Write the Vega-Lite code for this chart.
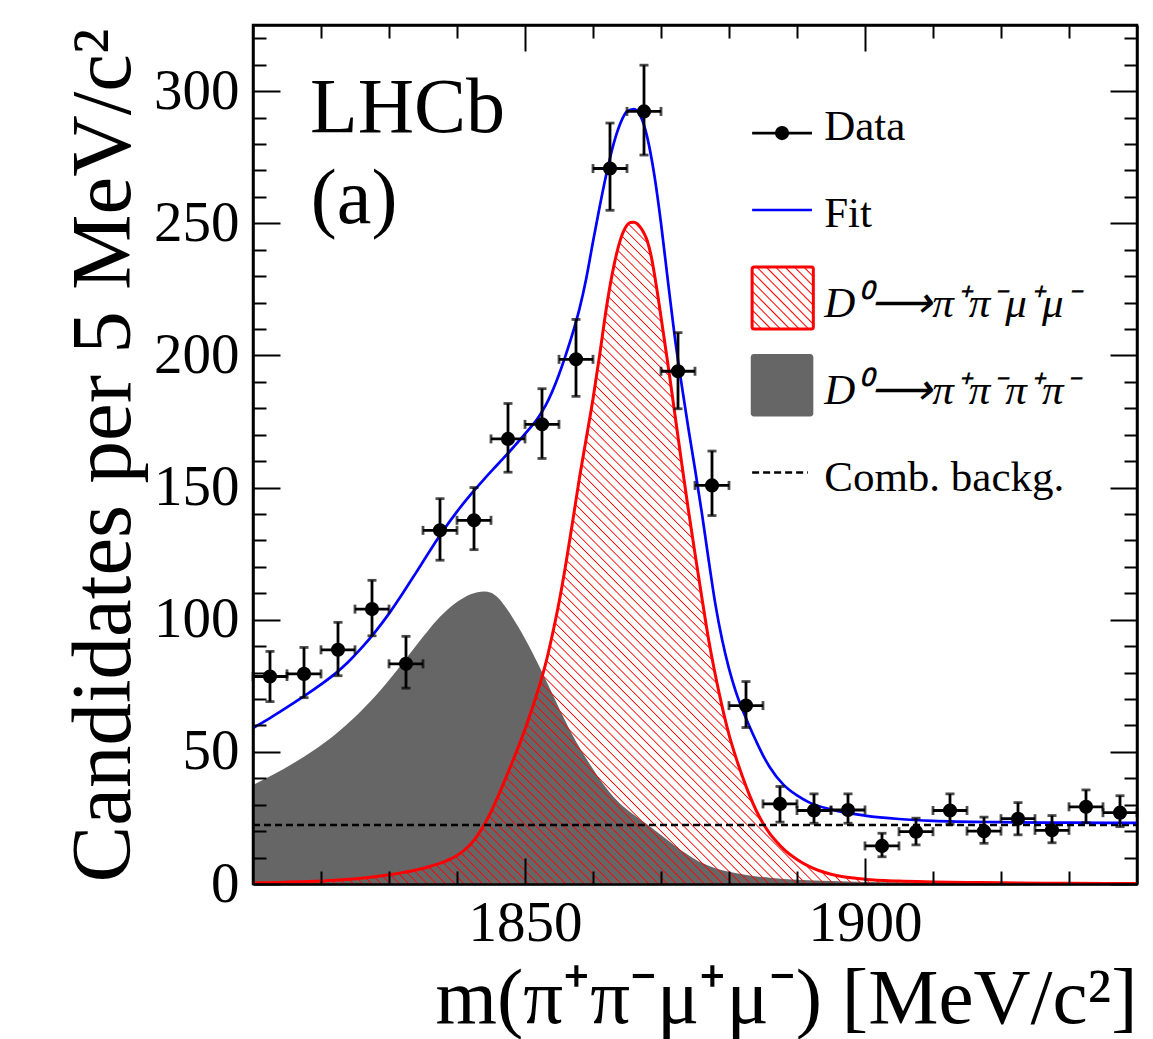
{
"$schema": "https://vega.github.io/schema/vega-lite/v6.json",
"width": 884, "height": 859,
"autosize": "none",
"padding": {"left": 253, "top": 25, "right": 16, "bottom": 155},
"background": "white",
"config": {
 "view": {"stroke": "black", "strokeWidth": 2.5},
 "font": "Liberation Serif",
 "axis": {"grid": false, "domain": false, "labelColor": "black", "titleColor": "black", "tickColor": "black", "tickWidth": 2, "labelFont": "Liberation Serif", "titleFont": "Liberation Serif", "titleFontWeight": "normal", "domainColor": "black", "domainWidth": 2.5}
},
"resolve": {"axis": {"x": "independent", "y": "independent"}},
"datasets": {
 "pts": [
  {"x":1812.5,"xlo":1810,"xhi":1815,"y":78.5,"ylo":69,"yhi":88},
  {"x":1817.5,"xlo":1815,"xhi":1820,"y":79.5,"ylo":70.5,"yhi":89.5},
  {"x":1822.5,"xlo":1820,"xhi":1825,"y":88.6,"ylo":78.8,"yhi":99},
  {"x":1827.5,"xlo":1825,"xhi":1830,"y":104,"ylo":93.9,"yhi":114.9},
  {"x":1832.5,"xlo":1830,"xhi":1835,"y":83.3,"ylo":74.1,"yhi":93.7},
  {"x":1837.5,"xlo":1835,"xhi":1840,"y":133.8,"ylo":122.5,"yhi":145.8},
  {"x":1842.5,"xlo":1840,"xhi":1845,"y":137.6,"ylo":126.5,"yhi":150},
  {"x":1847.5,"xlo":1845,"xhi":1850,"y":168.4,"ylo":155.8,"yhi":181.8},
  {"x":1852.5,"xlo":1850,"xhi":1855,"y":173.9,"ylo":161,"yhi":187.4},
  {"x":1857.5,"xlo":1855,"xhi":1860,"y":198.5,"ylo":184.5,"yhi":213.6},
  {"x":1862.5,"xlo":1860,"xhi":1865,"y":270.7,"ylo":254.9,"yhi":287.9},
  {"x":1867.5,"xlo":1865,"xhi":1870,"y":292.3,"ylo":275.8,"yhi":309.8},
  {"x":1872.5,"xlo":1870,"xhi":1875,"y":194,"ylo":179.8,"yhi":208.6},
  {"x":1877.5,"xlo":1875,"xhi":1880,"y":150.8,"ylo":139.4,"yhi":163.8},
  {"x":1882.5,"xlo":1880,"xhi":1885,"y":67.5,"ylo":59.2,"yhi":76.6},
  {"x":1887.5,"xlo":1885,"xhi":1890,"y":30.3,"ylo":23.4,"yhi":36.9},
  {"x":1892.5,"xlo":1890,"xhi":1895,"y":27.8,"ylo":23,"yhi":34.1},
  {"x":1897.5,"xlo":1895,"xhi":1900,"y":28,"ylo":23,"yhi":34.1},
  {"x":1902.5,"xlo":1900,"xhi":1905,"y":14.4,"ylo":10.3,"yhi":19.2},
  {"x":1907.5,"xlo":1905,"xhi":1910,"y":19.8,"ylo":14.8,"yhi":24.9},
  {"x":1912.5,"xlo":1910,"xhi":1915,"y":27.8,"ylo":22.6,"yhi":34.1},
  {"x":1917.5,"xlo":1915,"xhi":1920,"y":20,"ylo":15.4,"yhi":25.3},
  {"x":1922.5,"xlo":1920,"xhi":1925,"y":24.7,"ylo":18.6,"yhi":30.8},
  {"x":1927.5,"xlo":1925,"xhi":1930,"y":20.3,"ylo":15.6,"yhi":25.9},
  {"x":1932.5,"xlo":1930,"xhi":1935,"y":29.2,"ylo":23.2,"yhi":35.6},
  {"x":1937.5,"xlo":1935,"xhi":1940,"y":27,"ylo":21.7,"yhi":33.4}
 ],
 "gray": [
  {"x":1810,"y":37.5},{"x":1813,"y":41.4},{"x":1816,"y":45.8},{"x":1819,"y":50.7},{"x":1822,"y":56.4},{"x":1825,"y":63.2},{"x":1828,"y":71.1},{"x":1831,"y":80.3},{"x":1833,"y":86.9},{"x":1835,"y":93.5},{"x":1837,"y":99.7},{"x":1839,"y":104.7},{"x":1841,"y":108.3},{"x":1842,"y":109.6},{"x":1843,"y":110.4},{"x":1844,"y":110.7},{"x":1845,"y":110.2},{"x":1846,"y":108.4},{"x":1847,"y":105.3},{"x":1848,"y":101.5},{"x":1849,"y":97.3},{"x":1850,"y":92.8},{"x":1851,"y":88},{"x":1852,"y":82.9},{"x":1853,"y":77.6},{"x":1854,"y":72.1},{"x":1855,"y":66.6},{"x":1856,"y":61.3},{"x":1857,"y":56.3},{"x":1858,"y":51.7},{"x":1859,"y":47.5},{"x":1860,"y":43.5},{"x":1861,"y":39.6},{"x":1862,"y":36.1},{"x":1863,"y":33},{"x":1864,"y":30.4},{"x":1865,"y":28.2},{"x":1866,"y":26.2},{"x":1868,"y":22.5},{"x":1870,"y":18.5},{"x":1872,"y":14.6},{"x":1874,"y":11},{"x":1876,"y":8},{"x":1878,"y":6},{"x":1880,"y":4.6},{"x":1883,"y":3.2},{"x":1886,"y":2.4},{"x":1890,"y":1.6},{"x":1895,"y":1.1},{"x":1900,"y":0.8},{"x":1910,"y":0.5},{"x":1920,"y":0.3},{"x":1940,"y":0.15}
 ],
 "sig": [
  {"x":1810,"y":0.4},{"x":1814,"y":0.6},{"x":1818,"y":0.9},{"x":1822,"y":1.4},{"x":1826,"y":2.2},{"x":1829,"y":3.1},{"x":1832,"y":4.3},{"x":1834,"y":5.3},{"x":1836,"y":6.6},{"x":1837,"y":7.4},{"x":1838,"y":8.3},{"x":1839,"y":9.4},{"x":1840,"y":10.8},{"x":1841,"y":12.6},{"x":1842,"y":15},{"x":1843,"y":18.3},{"x":1844,"y":22.4},{"x":1845,"y":27.3},{"x":1846,"y":33},{"x":1847,"y":39},{"x":1848,"y":45.3},{"x":1849,"y":51.7},{"x":1850,"y":58.5},{"x":1851,"y":66},{"x":1852,"y":74},{"x":1853,"y":83},{"x":1854,"y":94},{"x":1855,"y":106.5},{"x":1856,"y":121},{"x":1857,"y":137},{"x":1858,"y":153.5},{"x":1859,"y":168.5},{"x":1860,"y":183.5},{"x":1861,"y":200.5},{"x":1862,"y":218.5},{"x":1863,"y":233},{"x":1863.5,"y":238.8},{"x":1864,"y":243.5},{"x":1864.5,"y":247},{"x":1865,"y":249.3},{"x":1865.5,"y":250.3},{"x":1866,"y":250.4},{"x":1866.5,"y":249.8},{"x":1867,"y":248.3},{"x":1867.5,"y":246.2},{"x":1868,"y":243.2},{"x":1868.5,"y":238.2},{"x":1869,"y":231.3},{"x":1869.5,"y":223.2},{"x":1870,"y":214.5},{"x":1871,"y":197},{"x":1872,"y":178.5},{"x":1873,"y":160},{"x":1874,"y":142},{"x":1875,"y":125},{"x":1876,"y":108.5},{"x":1877,"y":92.5},{"x":1878,"y":79},{"x":1879,"y":67},{"x":1880,"y":56.5},{"x":1881,"y":48},{"x":1882,"y":40.5},{"x":1883,"y":33.7},{"x":1884,"y":27.8},{"x":1885,"y":23},{"x":1886,"y":19.1},{"x":1887,"y":16},{"x":1888,"y":13.3},{"x":1890,"y":9.3},{"x":1892,"y":6.4},{"x":1895,"y":3.7},{"x":1900,"y":1.8},{"x":1905,"y":1.1},{"x":1910,"y":0.8},{"x":1915,"y":0.6},{"x":1920,"y":0.45},{"x":1930,"y":0.25},{"x":1940,"y":0.15}
 ],
 "fit": [
  {"x":1810,"y":59},{"x":1812,"y":62},{"x":1814,"y":65.2},{"x":1816,"y":68.5},{"x":1818,"y":71.9},{"x":1820,"y":75.5},{"x":1822,"y":79.4},{"x":1824,"y":84},{"x":1826,"y":89.4},{"x":1828,"y":95.5},{"x":1830,"y":102.3},{"x":1832,"y":109.9},{"x":1834,"y":117.9},{"x":1836,"y":126},{"x":1838,"y":133.8},{"x":1840,"y":140.9},{"x":1842,"y":147.3},{"x":1844,"y":153.2},{"x":1846,"y":158.8},{"x":1848,"y":164.4},{"x":1850,"y":170.3},{"x":1852,"y":176.7},{"x":1853,"y":180.9},{"x":1854,"y":186.3},{"x":1855,"y":192.8},{"x":1856,"y":200.2},{"x":1857,"y":208.3},{"x":1858,"y":217.5},{"x":1859,"y":229},{"x":1860,"y":243},{"x":1861,"y":256.5},{"x":1862,"y":269},{"x":1863,"y":279.7},{"x":1864,"y":287.6},{"x":1865,"y":292.3},{"x":1866,"y":293.2},{"x":1867,"y":290.5},{"x":1868,"y":282.3},{"x":1869,"y":268.5},{"x":1870,"y":250},{"x":1871,"y":228.5},{"x":1872,"y":207.5},{"x":1873,"y":189.5},{"x":1874,"y":172.8},{"x":1875,"y":157},{"x":1876,"y":140.5},{"x":1877,"y":122.7},{"x":1878,"y":105.8},{"x":1879,"y":92.3},{"x":1880,"y":81.5},{"x":1881,"y":72.8},{"x":1882,"y":65.8},{"x":1883,"y":59.7},{"x":1884,"y":54},{"x":1885,"y":48.7},{"x":1886,"y":44.2},{"x":1888,"y":37.6},{"x":1890,"y":33.5},{"x":1892,"y":30.6},{"x":1895,"y":28.2},{"x":1900,"y":25.9},{"x":1905,"y":24.6},{"x":1910,"y":23.9},{"x":1920,"y":23.4},{"x":1930,"y":23.2},{"x":1940,"y":23.1}
 ],
 "comb": [{"x":1810,"y":22.3},{"x":1940,"y":22.3}]
},
"layer": [
 {
  "data": {"name": "gray"},
  "mark": {"type": "area", "color": "#666666", "opacity": 1, "interpolate": "monotone"},
  "encoding": {
   "x": {"field": "x", "type": "quantitative", "scale": {"domain": [1810, 1940], "nice": false, "zero": false},
    "axis": {"orient": "bottom", "values": [1850, 1900], "format": "d", "ticks": false, "domain": false, "labelFontSize": 57, "labelPadding": 11, "labelFlush": false, "title": "m(π⁺π⁻μ⁺μ⁻) [MeV/c²]", "titleFontSize": 79, "titleAnchor": "end", "titleAlign": "right", "titleBaseline": "alphabetic", "titleX": 884, "titleY": 138}},
   "y": {"field": "y", "type": "quantitative", "scale": {"domain": [0, 325], "nice": false},
    "axis": {"orient": "left", "values": [0, 50, 100, 150, 200, 250, 300], "format": "d", "ticks": false, "domain": false, "labelFontSize": 57, "labelPadding": 14, "labelFlush": false, "title": "Candidates per 5 MeV/c²", "titleFontSize": 85, "titleAngle": -90, "titleAnchor": "end", "titleAlign": "right", "titleBaseline": "alphabetic", "titleX": -124, "titleY": 3}}
  }
 },
 {
  "data": {"name": "sig"},
  "transform": [{"filter": "datum.x >= 1818 && datum.x <= 1915"}],
  "mark": {"type": "area", "interpolate": "monotone", "color": {"gradient": "linear", "x1": 0, "y1": 1, "x2": 1, "y2": 0, "stops": [
{"offset":0,"color":"red"},{"offset":0.0009,"color":"#f000"},
{"offset":0.0061,"color":"#f000"},{"offset":0.007,"color":"red"},{"offset":0.0079,"color":"#f000"},
{"offset":0.0131,"color":"#f000"},{"offset":0.014,"color":"red"},{"offset":0.0149,"color":"#f000"},
{"offset":0.0201,"color":"#f000"},{"offset":0.021,"color":"red"},{"offset":0.0219,"color":"#f000"},
{"offset":0.0271,"color":"#f000"},{"offset":0.028,"color":"red"},{"offset":0.0289,"color":"#f000"},
{"offset":0.0341,"color":"#f000"},{"offset":0.035,"color":"red"},{"offset":0.0359,"color":"#f000"},
{"offset":0.0411,"color":"#f000"},{"offset":0.042,"color":"red"},{"offset":0.0429,"color":"#f000"},
{"offset":0.0481,"color":"#f000"},{"offset":0.049,"color":"red"},{"offset":0.0499,"color":"#f000"},
{"offset":0.0551,"color":"#f000"},{"offset":0.056,"color":"red"},{"offset":0.0569,"color":"#f000"},
{"offset":0.0621,"color":"#f000"},{"offset":0.063,"color":"red"},{"offset":0.0639,"color":"#f000"},
{"offset":0.0691,"color":"#f000"},{"offset":0.07,"color":"red"},{"offset":0.0709,"color":"#f000"},
{"offset":0.0761,"color":"#f000"},{"offset":0.077,"color":"red"},{"offset":0.0779,"color":"#f000"},
{"offset":0.0831,"color":"#f000"},{"offset":0.084,"color":"red"},{"offset":0.0849,"color":"#f000"},
{"offset":0.0901,"color":"#f000"},{"offset":0.091,"color":"red"},{"offset":0.0919,"color":"#f000"},
{"offset":0.0971,"color":"#f000"},{"offset":0.098,"color":"red"},{"offset":0.0989,"color":"#f000"},
{"offset":0.1041,"color":"#f000"},{"offset":0.105,"color":"red"},{"offset":0.1059,"color":"#f000"},
{"offset":0.1111,"color":"#f000"},{"offset":0.112,"color":"red"},{"offset":0.1129,"color":"#f000"},
{"offset":0.1181,"color":"#f000"},{"offset":0.119,"color":"red"},{"offset":0.1199,"color":"#f000"},
{"offset":0.1251,"color":"#f000"},{"offset":0.126,"color":"red"},{"offset":0.1269,"color":"#f000"},
{"offset":0.1321,"color":"#f000"},{"offset":0.133,"color":"red"},{"offset":0.1339,"color":"#f000"},
{"offset":0.1391,"color":"#f000"},{"offset":0.14,"color":"red"},{"offset":0.1409,"color":"#f000"},
{"offset":0.1461,"color":"#f000"},{"offset":0.147,"color":"red"},{"offset":0.1479,"color":"#f000"},
{"offset":0.1531,"color":"#f000"},{"offset":0.154,"color":"red"},{"offset":0.1549,"color":"#f000"},
{"offset":0.1601,"color":"#f000"},{"offset":0.161,"color":"red"},{"offset":0.1619,"color":"#f000"},
{"offset":0.1671,"color":"#f000"},{"offset":0.168,"color":"red"},{"offset":0.1689,"color":"#f000"},
{"offset":0.1741,"color":"#f000"},{"offset":0.175,"color":"red"},{"offset":0.1759,"color":"#f000"},
{"offset":0.1811,"color":"#f000"},{"offset":0.182,"color":"red"},{"offset":0.1829,"color":"#f000"},
{"offset":0.1881,"color":"#f000"},{"offset":0.189,"color":"red"},{"offset":0.1899,"color":"#f000"},
{"offset":0.1951,"color":"#f000"},{"offset":0.196,"color":"red"},{"offset":0.1969,"color":"#f000"},
{"offset":0.2021,"color":"#f000"},{"offset":0.203,"color":"red"},{"offset":0.2039,"color":"#f000"},
{"offset":0.2091,"color":"#f000"},{"offset":0.21,"color":"red"},{"offset":0.2109,"color":"#f000"},
{"offset":0.2161,"color":"#f000"},{"offset":0.217,"color":"red"},{"offset":0.2179,"color":"#f000"},
{"offset":0.2231,"color":"#f000"},{"offset":0.224,"color":"red"},{"offset":0.2249,"color":"#f000"},
{"offset":0.2301,"color":"#f000"},{"offset":0.231,"color":"red"},{"offset":0.2319,"color":"#f000"},
{"offset":0.2371,"color":"#f000"},{"offset":0.238,"color":"red"},{"offset":0.2389,"color":"#f000"},
{"offset":0.2441,"color":"#f000"},{"offset":0.245,"color":"red"},{"offset":0.2459,"color":"#f000"},
{"offset":0.2511,"color":"#f000"},{"offset":0.252,"color":"red"},{"offset":0.2529,"color":"#f000"},
{"offset":0.2581,"color":"#f000"},{"offset":0.259,"color":"red"},{"offset":0.2599,"color":"#f000"},
{"offset":0.2651,"color":"#f000"},{"offset":0.266,"color":"red"},{"offset":0.2669,"color":"#f000"},
{"offset":0.2721,"color":"#f000"},{"offset":0.273,"color":"red"},{"offset":0.2739,"color":"#f000"},
{"offset":0.2791,"color":"#f000"},{"offset":0.28,"color":"red"},{"offset":0.2809,"color":"#f000"},
{"offset":0.2861,"color":"#f000"},{"offset":0.287,"color":"red"},{"offset":0.2879,"color":"#f000"},
{"offset":0.2931,"color":"#f000"},{"offset":0.294,"color":"red"},{"offset":0.2949,"color":"#f000"},
{"offset":0.3001,"color":"#f000"},{"offset":0.301,"color":"red"},{"offset":0.3019,"color":"#f000"},
{"offset":0.3071,"color":"#f000"},{"offset":0.308,"color":"red"},{"offset":0.3089,"color":"#f000"},
{"offset":0.3141,"color":"#f000"},{"offset":0.315,"color":"red"},{"offset":0.3159,"color":"#f000"},
{"offset":0.3211,"color":"#f000"},{"offset":0.322,"color":"red"},{"offset":0.3229,"color":"#f000"},
{"offset":0.3281,"color":"#f000"},{"offset":0.329,"color":"red"},{"offset":0.3299,"color":"#f000"},
{"offset":0.3351,"color":"#f000"},{"offset":0.336,"color":"red"},{"offset":0.3369,"color":"#f000"},
{"offset":0.3421,"color":"#f000"},{"offset":0.343,"color":"red"},{"offset":0.3439,"color":"#f000"},
{"offset":0.3491,"color":"#f000"},{"offset":0.35,"color":"red"},{"offset":0.3509,"color":"#f000"},
{"offset":0.3561,"color":"#f000"},{"offset":0.357,"color":"red"},{"offset":0.3579,"color":"#f000"},
{"offset":0.3631,"color":"#f000"},{"offset":0.364,"color":"red"},{"offset":0.3649,"color":"#f000"},
{"offset":0.3701,"color":"#f000"},{"offset":0.371,"color":"red"},{"offset":0.3719,"color":"#f000"},
{"offset":0.3771,"color":"#f000"},{"offset":0.378,"color":"red"},{"offset":0.3789,"color":"#f000"},
{"offset":0.3841,"color":"#f000"},{"offset":0.385,"color":"red"},{"offset":0.3859,"color":"#f000"},
{"offset":0.3911,"color":"#f000"},{"offset":0.392,"color":"red"},{"offset":0.3929,"color":"#f000"},
{"offset":0.3981,"color":"#f000"},{"offset":0.399,"color":"red"},{"offset":0.3999,"color":"#f000"},
{"offset":0.4051,"color":"#f000"},{"offset":0.406,"color":"red"},{"offset":0.4069,"color":"#f000"},
{"offset":0.4121,"color":"#f000"},{"offset":0.413,"color":"red"},{"offset":0.4139,"color":"#f000"},
{"offset":0.4191,"color":"#f000"},{"offset":0.42,"color":"red"},{"offset":0.4209,"color":"#f000"},
{"offset":0.4261,"color":"#f000"},{"offset":0.427,"color":"red"},{"offset":0.4279,"color":"#f000"},
{"offset":0.4331,"color":"#f000"},{"offset":0.434,"color":"red"},{"offset":0.4349,"color":"#f000"},
{"offset":0.4401,"color":"#f000"},{"offset":0.441,"color":"red"},{"offset":0.4419,"color":"#f000"},
{"offset":0.4471,"color":"#f000"},{"offset":0.448,"color":"red"},{"offset":0.4489,"color":"#f000"},
{"offset":0.4541,"color":"#f000"},{"offset":0.455,"color":"red"},{"offset":0.4559,"color":"#f000"},
{"offset":0.4611,"color":"#f000"},{"offset":0.462,"color":"red"},{"offset":0.4629,"color":"#f000"},
{"offset":0.4681,"color":"#f000"},{"offset":0.469,"color":"red"},{"offset":0.4699,"color":"#f000"},
{"offset":0.4751,"color":"#f000"},{"offset":0.476,"color":"red"},{"offset":0.4769,"color":"#f000"},
{"offset":0.4821,"color":"#f000"},{"offset":0.483,"color":"red"},{"offset":0.4839,"color":"#f000"},
{"offset":0.4891,"color":"#f000"},{"offset":0.49,"color":"red"},{"offset":0.4909,"color":"#f000"},
{"offset":0.4961,"color":"#f000"},{"offset":0.497,"color":"red"},{"offset":0.4979,"color":"#f000"},
{"offset":0.5031,"color":"#f000"},{"offset":0.504,"color":"red"},{"offset":0.5049,"color":"#f000"},
{"offset":0.5101,"color":"#f000"},{"offset":0.511,"color":"red"},{"offset":0.5119,"color":"#f000"},
{"offset":0.5171,"color":"#f000"},{"offset":0.518,"color":"red"},{"offset":0.5189,"color":"#f000"},
{"offset":0.5241,"color":"#f000"},{"offset":0.525,"color":"red"},{"offset":0.5259,"color":"#f000"},
{"offset":0.5311,"color":"#f000"},{"offset":0.532,"color":"red"},{"offset":0.5329,"color":"#f000"},
{"offset":0.5381,"color":"#f000"},{"offset":0.539,"color":"red"},{"offset":0.5399,"color":"#f000"},
{"offset":0.5451,"color":"#f000"},{"offset":0.546,"color":"red"},{"offset":0.5469,"color":"#f000"},
{"offset":0.5521,"color":"#f000"},{"offset":0.553,"color":"red"},{"offset":0.5539,"color":"#f000"},
{"offset":0.5591,"color":"#f000"},{"offset":0.56,"color":"red"},{"offset":0.5609,"color":"#f000"},
{"offset":0.5661,"color":"#f000"},{"offset":0.567,"color":"red"},{"offset":0.5679,"color":"#f000"},
{"offset":0.5731,"color":"#f000"},{"offset":0.574,"color":"red"},{"offset":0.5749,"color":"#f000"},
{"offset":0.5801,"color":"#f000"},{"offset":0.581,"color":"red"},{"offset":0.5819,"color":"#f000"},
{"offset":0.5871,"color":"#f000"},{"offset":0.588,"color":"red"},{"offset":0.5889,"color":"#f000"},
{"offset":0.5941,"color":"#f000"},{"offset":0.595,"color":"red"},{"offset":0.5959,"color":"#f000"},
{"offset":0.6011,"color":"#f000"},{"offset":0.602,"color":"red"},{"offset":0.6029,"color":"#f000"},
{"offset":0.6081,"color":"#f000"},{"offset":0.609,"color":"red"},{"offset":0.6099,"color":"#f000"},
{"offset":0.6151,"color":"#f000"},{"offset":0.616,"color":"red"},{"offset":0.6169,"color":"#f000"},
{"offset":0.6221,"color":"#f000"},{"offset":0.623,"color":"red"},{"offset":0.6239,"color":"#f000"},
{"offset":0.6291,"color":"#f000"},{"offset":0.63,"color":"red"},{"offset":0.6309,"color":"#f000"},
{"offset":0.6361,"color":"#f000"},{"offset":0.637,"color":"red"},{"offset":0.6379,"color":"#f000"},
{"offset":0.6431,"color":"#f000"},{"offset":0.644,"color":"red"},{"offset":0.6449,"color":"#f000"},
{"offset":0.6501,"color":"#f000"},{"offset":0.651,"color":"red"},{"offset":0.6519,"color":"#f000"},
{"offset":0.6571,"color":"#f000"},{"offset":0.658,"color":"red"},{"offset":0.6589,"color":"#f000"},
{"offset":0.6641,"color":"#f000"},{"offset":0.665,"color":"red"},{"offset":0.6659,"color":"#f000"},
{"offset":0.6711,"color":"#f000"},{"offset":0.672,"color":"red"},{"offset":0.6729,"color":"#f000"},
{"offset":0.6781,"color":"#f000"},{"offset":0.679,"color":"red"},{"offset":0.6799,"color":"#f000"},
{"offset":0.6851,"color":"#f000"},{"offset":0.686,"color":"red"},{"offset":0.6869,"color":"#f000"},
{"offset":0.6921,"color":"#f000"},{"offset":0.693,"color":"red"},{"offset":0.6939,"color":"#f000"},
{"offset":0.6991,"color":"#f000"},{"offset":0.7,"color":"red"},{"offset":0.7009,"color":"#f000"},
{"offset":0.7061,"color":"#f000"},{"offset":0.707,"color":"red"},{"offset":0.7079,"color":"#f000"},
{"offset":0.7131,"color":"#f000"},{"offset":0.714,"color":"red"},{"offset":0.7149,"color":"#f000"},
{"offset":0.7201,"color":"#f000"},{"offset":0.721,"color":"red"},{"offset":0.7219,"color":"#f000"},
{"offset":0.7271,"color":"#f000"},{"offset":0.728,"color":"red"},{"offset":0.7289,"color":"#f000"},
{"offset":0.7341,"color":"#f000"},{"offset":0.735,"color":"red"},{"offset":0.7359,"color":"#f000"},
{"offset":0.7411,"color":"#f000"},{"offset":0.742,"color":"red"},{"offset":0.7429,"color":"#f000"},
{"offset":0.7481,"color":"#f000"},{"offset":0.749,"color":"red"},{"offset":0.7499,"color":"#f000"},
{"offset":0.7551,"color":"#f000"},{"offset":0.756,"color":"red"},{"offset":0.7569,"color":"#f000"},
{"offset":0.7621,"color":"#f000"},{"offset":0.763,"color":"red"},{"offset":0.7639,"color":"#f000"},
{"offset":0.7691,"color":"#f000"},{"offset":0.77,"color":"red"},{"offset":0.7709,"color":"#f000"},
{"offset":0.7761,"color":"#f000"},{"offset":0.777,"color":"red"},{"offset":0.7779,"color":"#f000"},
{"offset":0.7831,"color":"#f000"},{"offset":0.784,"color":"red"},{"offset":0.7849,"color":"#f000"},
{"offset":0.7901,"color":"#f000"},{"offset":0.791,"color":"red"},{"offset":0.7919,"color":"#f000"},
{"offset":0.7971,"color":"#f000"},{"offset":0.798,"color":"red"},{"offset":0.7989,"color":"#f000"},
{"offset":0.8041,"color":"#f000"},{"offset":0.805,"color":"red"},{"offset":0.8059,"color":"#f000"},
{"offset":0.8111,"color":"#f000"},{"offset":0.812,"color":"red"},{"offset":0.8129,"color":"#f000"},
{"offset":0.8181,"color":"#f000"},{"offset":0.819,"color":"red"},{"offset":0.8199,"color":"#f000"},
{"offset":0.8251,"color":"#f000"},{"offset":0.826,"color":"red"},{"offset":0.8269,"color":"#f000"},
{"offset":0.8321,"color":"#f000"},{"offset":0.833,"color":"red"},{"offset":0.8339,"color":"#f000"},
{"offset":0.8391,"color":"#f000"},{"offset":0.84,"color":"red"},{"offset":0.8409,"color":"#f000"},
{"offset":0.8461,"color":"#f000"},{"offset":0.847,"color":"red"},{"offset":0.8479,"color":"#f000"},
{"offset":0.8531,"color":"#f000"},{"offset":0.854,"color":"red"},{"offset":0.8549,"color":"#f000"},
{"offset":0.8601,"color":"#f000"},{"offset":0.861,"color":"red"},{"offset":0.8619,"color":"#f000"},
{"offset":0.8671,"color":"#f000"},{"offset":0.868,"color":"red"},{"offset":0.8689,"color":"#f000"},
{"offset":0.8741,"color":"#f000"},{"offset":0.875,"color":"red"},{"offset":0.8759,"color":"#f000"},
{"offset":0.8811,"color":"#f000"},{"offset":0.882,"color":"red"},{"offset":0.8829,"color":"#f000"},
{"offset":0.8881,"color":"#f000"},{"offset":0.889,"color":"red"},{"offset":0.8899,"color":"#f000"},
{"offset":0.8951,"color":"#f000"},{"offset":0.896,"color":"red"},{"offset":0.8969,"color":"#f000"},
{"offset":0.9021,"color":"#f000"},{"offset":0.903,"color":"red"},{"offset":0.9039,"color":"#f000"},
{"offset":0.9091,"color":"#f000"},{"offset":0.91,"color":"red"},{"offset":0.9109,"color":"#f000"},
{"offset":0.9161,"color":"#f000"},{"offset":0.917,"color":"red"},{"offset":0.9179,"color":"#f000"},
{"offset":0.9231,"color":"#f000"},{"offset":0.924,"color":"red"},{"offset":0.9249,"color":"#f000"},
{"offset":0.9301,"color":"#f000"},{"offset":0.931,"color":"red"},{"offset":0.9319,"color":"#f000"},
{"offset":0.9371,"color":"#f000"},{"offset":0.938,"color":"red"},{"offset":0.9389,"color":"#f000"},
{"offset":0.9441,"color":"#f000"},{"offset":0.945,"color":"red"},{"offset":0.9459,"color":"#f000"},
{"offset":0.9511,"color":"#f000"},{"offset":0.952,"color":"red"},{"offset":0.9529,"color":"#f000"},
{"offset":0.9581,"color":"#f000"},{"offset":0.959,"color":"red"},{"offset":0.9599,"color":"#f000"},
{"offset":0.9651,"color":"#f000"},{"offset":0.966,"color":"red"},{"offset":0.9669,"color":"#f000"},
{"offset":0.9721,"color":"#f000"},{"offset":0.973,"color":"red"},{"offset":0.9739,"color":"#f000"},
{"offset":0.9791,"color":"#f000"},{"offset":0.98,"color":"red"},{"offset":0.9809,"color":"#f000"},
{"offset":0.9861,"color":"#f000"},{"offset":0.987,"color":"red"},{"offset":0.9879,"color":"#f000"},
{"offset":0.9931,"color":"#f000"},{"offset":0.994,"color":"red"},{"offset":0.9949,"color":"#f000"}
  ]}},
  "encoding": {
   "x": {"field": "x", "type": "quantitative", "scale": {"domain": [1810, 1940], "nice": false, "zero": false},
    "axis": {"orient": "bottom", "values": [1850, 1900], "labels": false, "domain": true, "ticks": true, "tickSize": -26, "title": null, "zindex": 1}},
   "y": {"field": "y", "type": "quantitative", "scale": {"domain": [0, 325], "nice": false},
    "axis": {"orient": "left", "values": [0, 50, 100, 150, 200, 250, 300], "labels": false, "domain": true, "ticks": true, "tickSize": -27, "title": null, "zindex": 1}}
  }
 },
 {
  "data": {"name": "sig"},
  "mark": {"type": "line", "color": "#ff0000", "strokeWidth": 3, "interpolate": "monotone"},
  "encoding": {
   "x": {"field": "x", "type": "quantitative", "scale": {"domain": [1810, 1940], "nice": false, "zero": false},
    "axis": {"orient": "bottom", "values": [1820, 1830, 1840, 1860, 1870, 1880, 1890, 1910, 1920, 1930], "labels": false, "ticks": true, "tickSize": -13, "title": null, "zindex": 1}},
   "y": {"field": "y", "type": "quantitative", "scale": {"domain": [0, 325], "nice": false},
    "axis": {"orient": "left", "values": [10,20,30,40,60,70,80,90,110,120,130,140,160,170,180,190,210,220,230,240,260,270,280,290,310,320], "labels": false, "ticks": true, "tickSize": -13, "title": null, "zindex": 1}}
  }
 },
 {
  "data": {"name": "comb"},
  "mark": {"type": "line", "color": "black", "strokeWidth": 2.5, "strokeDash": [7, 4]},
  "encoding": {
   "x": {"field": "x", "type": "quantitative", "scale": {"domain": [1810, 1940], "nice": false, "zero": false},
    "axis": {"orient": "top", "values": [1850, 1900], "labels": false, "domain": true, "ticks": true, "tickSize": -26, "title": null, "zindex": 1}},
   "y": {"field": "y", "type": "quantitative", "scale": {"domain": [0, 325], "nice": false},
    "axis": {"orient": "right", "values": [0, 50, 100, 150, 200, 250, 300], "labels": false, "domain": true, "ticks": true, "tickSize": -27, "title": null, "zindex": 1}}
  }
 },
 {
  "data": {"name": "fit"},
  "mark": {"type": "line", "color": "#0000ff", "strokeWidth": 2.7, "interpolate": "monotone"},
  "encoding": {
   "x": {"field": "x", "type": "quantitative", "scale": {"domain": [1810, 1940], "nice": false, "zero": false},
    "axis": {"orient": "top", "values": [1820, 1830, 1840, 1860, 1870, 1880, 1890, 1910, 1920, 1930], "labels": false, "ticks": true, "tickSize": -13, "title": null, "zindex": 1}},
   "y": {"field": "y", "type": "quantitative", "scale": {"domain": [0, 325], "nice": false},
    "axis": {"orient": "right", "values": [10,20,30,40,60,70,80,90,110,120,130,140,160,170,180,190,210,220,230,240,260,270,280,290,310,320], "labels": false, "ticks": true, "tickSize": -13, "title": null, "zindex": 1}}
  }
 },
 {
  "data": {"name": "pts"},
  "mark": {"type": "errorbar", "color": "black", "thickness": 2.8, "ticks": {"size": 9}},
  "encoding": {
   "x": {"field": "x", "type": "quantitative", "scale": {"domain": [1810, 1940], "nice": false, "zero": false}, "axis": null},
   "y": {"field": "ylo", "type": "quantitative", "scale": {"domain": [0, 325], "nice": false}, "axis": null},
   "y2": {"field": "yhi"}
  }
 },
 {
  "data": {"name": "pts"},
  "mark": {"type": "errorbar", "color": "black", "thickness": 2.8, "ticks": {"size": 9}},
  "encoding": {
   "x": {"field": "xlo", "type": "quantitative", "scale": {"domain": [1810, 1940], "nice": false, "zero": false}, "axis": null},
   "x2": {"field": "xhi"},
   "y": {"field": "y", "type": "quantitative", "scale": {"domain": [0, 325], "nice": false}, "axis": null}
  }
 },
 {
  "data": {"name": "pts"},
  "mark": {"type": "circle", "color": "black", "size": 200, "opacity": 1},
  "encoding": {
   "x": {"field": "x", "type": "quantitative", "scale": {"domain": [1810, 1940], "nice": false, "zero": false}, "axis": null},
   "y": {"field": "y", "type": "quantitative", "scale": {"domain": [0, 325], "nice": false}, "axis": null}
  }
 },
 {
  "data": {"values": [{"x": 1883.4, "x2": 1892.2, "y": 284.1}]},
  "mark": {"type": "rule", "color": "black", "strokeWidth": 2.8},
  "encoding": {
   "x": {"field": "x", "type": "quantitative", "scale": {"domain": [1810, 1940], "nice": false, "zero": false}, "axis": null},
   "x2": {"field": "x2"},
   "y": {"field": "y", "type": "quantitative", "scale": {"domain": [0, 325], "nice": false}, "axis": null}
  }
 },
 {
  "data": {"values": [{"x": 1887.8, "y": 284.1}]},
  "mark": {"type": "circle", "color": "black", "size": 200, "opacity": 1},
  "encoding": {
   "x": {"field": "x", "type": "quantitative", "scale": {"domain": [1810, 1940], "nice": false, "zero": false}, "axis": null},
   "y": {"field": "y", "type": "quantitative", "scale": {"domain": [0, 325], "nice": false}, "axis": null}
  }
 },
 {
  "data": {"values": [{"x": 1883.4, "x2": 1892.2, "y": 255}]},
  "mark": {"type": "rule", "color": "#0000ff", "strokeWidth": 2.7},
  "encoding": {
   "x": {"field": "x", "type": "quantitative", "scale": {"domain": [1810, 1940], "nice": false, "zero": false}, "axis": null},
   "x2": {"field": "x2"},
   "y": {"field": "y", "type": "quantitative", "scale": {"domain": [0, 325], "nice": false}, "axis": null}
  }
 },
 {
  "data": {"values": [{"x": 1883.4, "x2": 1891.6, "y": 155.7}]},
  "mark": {"type": "rule", "color": "black", "strokeWidth": 2.5, "strokeDash": [7, 4]},
  "encoding": {
   "x": {"field": "x", "type": "quantitative", "scale": {"domain": [1810, 1940], "nice": false, "zero": false}, "axis": null},
   "x2": {"field": "x2"},
   "y": {"field": "y", "type": "quantitative", "scale": {"domain": [0, 325], "nice": false}, "axis": null}
  }
 },
 {
  "data": {"values": [{"x": 1883.4, "x2": 1892.4, "y": 233.4, "y2": 210}]},
  "mark": {"type": "rect", "stroke": "#ff0000", "strokeWidth": 3, "cornerRadius": 2, "fill": {"gradient": "linear", "x1": 0, "y1": 1, "x2": 1, "y2": 0, "stops": [
{"offset":0,"color":"red"},{"offset":0.012,"color":"#f000"},
{"offset":0.0649,"color":"#f000"},{"offset":0.0769,"color":"red"},{"offset":0.0889,"color":"#f000"},
{"offset":0.1418,"color":"#f000"},{"offset":0.1538,"color":"red"},{"offset":0.1658,"color":"#f000"},
{"offset":0.2188,"color":"#f000"},{"offset":0.2308,"color":"red"},{"offset":0.2428,"color":"#f000"},
{"offset":0.2957,"color":"#f000"},{"offset":0.3077,"color":"red"},{"offset":0.3197,"color":"#f000"},
{"offset":0.3726,"color":"#f000"},{"offset":0.3846,"color":"red"},{"offset":0.3966,"color":"#f000"},
{"offset":0.4495,"color":"#f000"},{"offset":0.4615,"color":"red"},{"offset":0.4735,"color":"#f000"},
{"offset":0.5265,"color":"#f000"},{"offset":0.5385,"color":"red"},{"offset":0.5505,"color":"#f000"},
{"offset":0.6034,"color":"#f000"},{"offset":0.6154,"color":"red"},{"offset":0.6274,"color":"#f000"},
{"offset":0.6803,"color":"#f000"},{"offset":0.6923,"color":"red"},{"offset":0.7043,"color":"#f000"},
{"offset":0.7572,"color":"#f000"},{"offset":0.7692,"color":"red"},{"offset":0.7812,"color":"#f000"},
{"offset":0.8342,"color":"#f000"},{"offset":0.8462,"color":"red"},{"offset":0.8582,"color":"#f000"},
{"offset":0.9111,"color":"#f000"},{"offset":0.9231,"color":"red"},{"offset":0.9351,"color":"#f000"},
{"offset":0.988,"color":"#f000"},{"offset":1,"color":"red"}
  ]}},
  "encoding": {
   "x": {"field": "x", "type": "quantitative", "scale": {"domain": [1810, 1940], "nice": false, "zero": false}, "axis": null},
   "x2": {"field": "x2"},
   "y": {"field": "y", "type": "quantitative", "scale": {"domain": [0, 325], "nice": false}, "axis": null},
   "y2": {"field": "y2"}
  }
 },
 {
  "data": {"values": [{"x": 1883.2, "x2": 1892.4, "y": 200.5, "y2": 176.9}]},
  "mark": {"type": "rect", "color": "#666666", "cornerRadius": 3, "opacity": 1},
  "encoding": {
   "x": {"field": "x", "type": "quantitative", "scale": {"domain": [1810, 1940], "nice": false, "zero": false}, "axis": null},
   "x2": {"field": "x2"},
   "y": {"field": "y", "type": "quantitative", "scale": {"domain": [0, 325], "nice": false}, "axis": null},
   "y2": {"field": "y2"}
  }
 },
 {
  "data": {"values": [{"x": 1894, "y": 281.5, "t": "Data"}, {"x": 1894, "y": 248.4, "t": "Fit"}, {"x": 1894, "y": 148.7, "t": "Comb. backg."}]},
  "mark": {"type": "text", "align": "left", "baseline": "alphabetic", "fontSize": 43, "font": "Liberation Serif", "color": "black"},
  "encoding": {
   "x": {"field": "x", "type": "quantitative", "scale": {"domain": [1810, 1940], "nice": false, "zero": false}, "axis": null},
   "y": {"field": "y", "type": "quantitative", "scale": {"domain": [0, 325], "nice": false}, "axis": null},
   "text": {"field": "t"}
  }
 },
 {
  "data": {"values": [{"x": 1894, "y": 214.7, "t": "D⁰⟶π⁺π⁻μ⁺μ⁻"}, {"x": 1894, "y": 181.6, "t": "D⁰⟶π⁺π⁻π⁺π⁻"}]},
  "mark": {"type": "text", "align": "left", "baseline": "alphabetic", "fontSize": 43, "font": "Liberation Serif", "fontStyle": "italic", "color": "black"},
  "encoding": {
   "x": {"field": "x", "type": "quantitative", "scale": {"domain": [1810, 1940], "nice": false, "zero": false}, "axis": null},
   "y": {"field": "y", "type": "quantitative", "scale": {"domain": [0, 325], "nice": false}, "axis": null},
   "text": {"field": "t"}
  }
 },
 {
  "data": {"values": [{"x": 1818.4, "y": 284.6, "t": "LHCb"}, {"x": 1818.5, "y": 250.1, "t": "(a)"}]},
  "mark": {"type": "text", "align": "left", "baseline": "alphabetic", "fontSize": 78, "font": "Liberation Serif", "color": "black"},
  "encoding": {
   "x": {"field": "x", "type": "quantitative", "scale": {"domain": [1810, 1940], "nice": false, "zero": false}, "axis": null},
   "y": {"field": "y", "type": "quantitative", "scale": {"domain": [0, 325], "nice": false}, "axis": null},
   "text": {"field": "t"}
  }
 }
]
}
